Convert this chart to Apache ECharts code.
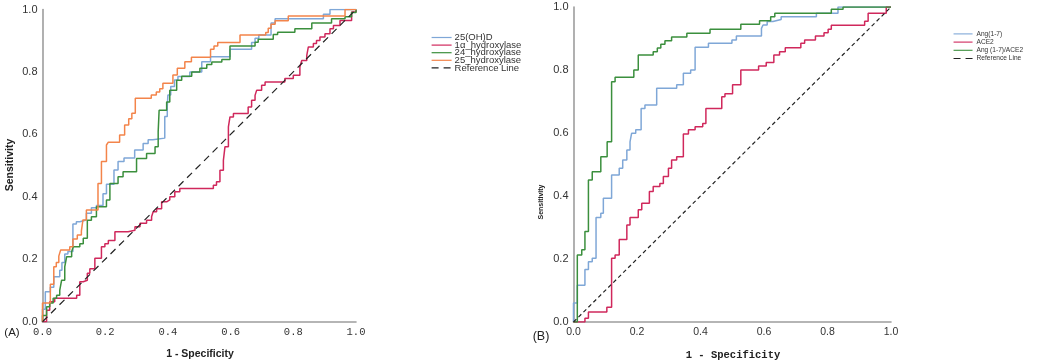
<!DOCTYPE html>
<html>
<head>
<meta charset="utf-8">
<style>
  html, body { margin: 0; padding: 0; background: #fff; }
  #roc { width: 1049px; height: 363px; }
</style>
<script src="https://cdn.jsdelivr.net/npm/echarts@6/dist/echarts.min.js"></script>
</head>
<body>
<div id="roc"></div>
<script>
// 刻度
var ticks = [0, 0.2, 0.4, 0.6, 0.8, 1.0];

// 图例名称
var namesA = ['25(OH)D', '1α_hydroxylase', '24_hydroxylase', '25_hydroxylase', 'Reference Line'];
var namesB = ['Ang(1-7)', 'ACE2', 'Ang (1-7)/ACE2', 'Reference Line'];

// (A) ROC 折线点 [1-特异度, 灵敏度]
var ohdA = [[0,0],[0,0.04],[0.009,0.096],[0.025,0.11],[0.036,0.144],[0.055,0.165],[0.062,0.19],[0.071,0.217],[0.081,0.225],[0.097,0.313],[0.108,0.32],[0.119,0.326],[0.14,0.347],[0.156,0.365],[0.172,0.372],[0.193,0.41],[0.204,0.44],[0.228,0.486],[0.241,0.513],[0.26,0.524],[0.294,0.55],[0.321,0.571],[0.337,0.583],[0.352,0.588],[0.39,0.657],[0.398,0.69],[0.4,0.726],[0.409,0.753],[0.421,0.774],[0.432,0.785],[0.47,0.8],[0.508,0.833],[0.536,0.849],[0.598,0.873],[0.667,0.894],[0.678,0.908],[0.69,0.918],[0.729,0.957],[0.742,0.97],[0.896,0.985],[0.917,1],[1,1]];
var alphaA = [[0,0],[0.013,0.037],[0.023,0.064],[0.039,0.075],[0.109,0.085],[0.119,0.128],[0.13,0.133],[0.143,0.155],[0.151,0.17],[0.167,0.203],[0.188,0.24],[0.199,0.25],[0.21,0.26],[0.231,0.288],[0.273,0.293],[0.295,0.304],[0.311,0.315],[0.332,0.325],[0.348,0.336],[0.353,0.352],[0.364,0.362],[0.38,0.384],[0.396,0.39],[0.406,0.4],[0.422,0.416],[0.438,0.427],[0.545,0.437],[0.555,0.448],[0.566,0.485],[0.577,0.517],[0.582,0.56],[0.593,0.624],[0.598,0.656],[0.609,0.667],[0.656,0.688],[0.667,0.709],[0.678,0.725],[0.683,0.741],[0.699,0.757],[0.71,0.768],[0.773,0.779],[0.8,0.789],[0.821,0.816],[0.827,0.837],[0.843,0.853],[0.848,0.88],[0.864,0.891],[0.874,0.901],[0.885,0.912],[0.901,0.922],[0.917,0.938],[0.928,0.949],[0.949,0.965],[0.986,0.992],[1,1]];
var h24A = [[0,0],[0,0.02],[0.013,0.048],[0.023,0.06],[0.034,0.075],[0.045,0.085],[0.055,0.1],[0.061,0.133],[0.071,0.176],[0.077,0.208],[0.093,0.224],[0.098,0.24],[0.119,0.25],[0.13,0.267],[0.143,0.325],[0.156,0.336],[0.172,0.368],[0.204,0.39],[0.215,0.443],[0.241,0.464],[0.257,0.48],[0.3,0.523],[0.332,0.539],[0.359,0.56],[0.369,0.608],[0.372,0.677],[0.396,0.704],[0.406,0.741],[0.428,0.773],[0.444,0.786],[0.476,0.8],[0.502,0.812],[0.524,0.824],[0.54,0.832],[0.572,0.84],[0.598,0.883],[0.678,0.895],[0.688,0.905],[0.736,0.92],[0.75,0.927],[0.805,0.938],[0.859,0.957],[0.922,0.97],[0.965,0.977],[0.986,0.99],[1,1]];
var h25A = [[0,0],[0,0.06],[0.025,0.12],[0.036,0.176],[0.044,0.19],[0.052,0.21],[0.058,0.23],[0.087,0.24],[0.097,0.265],[0.111,0.278],[0.124,0.29],[0.129,0.326],[0.14,0.358],[0.177,0.443],[0.188,0.513],[0.204,0.566],[0.21,0.575],[0.246,0.598],[0.262,0.63],[0.275,0.65],[0.285,0.668],[0.296,0.716],[0.347,0.726],[0.363,0.736],[0.374,0.746],[0.384,0.764],[0.416,0.79],[0.43,0.812],[0.454,0.833],[0.475,0.847],[0.536,0.873],[0.547,0.883],[0.559,0.894],[0.63,0.918],[0.712,0.926],[0.72,0.94],[0.729,0.953],[0.742,0.964],[0.784,0.979],[0.965,1],[1,1]];

// (B)
var angB = [[0,0],[0,0.06],[0.012,0.117],[0.036,0.167],[0.047,0.191],[0.059,0.202],[0.071,0.332],[0.086,0.345],[0.094,0.393],[0.12,0.467],[0.144,0.488],[0.155,0.514],[0.168,0.546],[0.178,0.572],[0.183,0.599],[0.196,0.61],[0.213,0.678],[0.225,0.689],[0.262,0.742],[0.325,0.753],[0.346,0.79],[0.369,0.8],[0.383,0.872],[0.425,0.885],[0.499,0.895],[0.513,0.908],[0.592,0.932],[0.597,0.943],[0.61,0.954],[0.628,0.96],[0.654,0.969],[0.765,0.98],[0.833,1],[1,1]];
var ace2B = [[0,0],[0.036,0.012],[0.047,0.032],[0.105,0.047],[0.12,0.202],[0.131,0.213],[0.144,0.262],[0.168,0.308],[0.178,0.332],[0.204,0.356],[0.215,0.377],[0.239,0.414],[0.251,0.43],[0.272,0.44],[0.283,0.462],[0.299,0.488],[0.309,0.514],[0.325,0.525],[0.346,0.597],[0.362,0.61],[0.383,0.62],[0.407,0.63],[0.417,0.678],[0.467,0.715],[0.477,0.725],[0.501,0.753],[0.527,0.8],[0.583,0.813],[0.607,0.824],[0.631,0.848],[0.649,0.858],[0.667,0.871],[0.716,0.885],[0.728,0.895],[0.762,0.908],[0.789,0.918],[0.802,0.929],[0.812,0.942],[0.917,0.955],[0.928,0.98],[0.985,1],[1,1]];
var ratioB = [[0,0],[0.012,0.213],[0.026,0.229],[0.036,0.287],[0.047,0.451],[0.059,0.477],[0.086,0.525],[0.106,0.572],[0.12,0.763],[0.131,0.777],[0.19,0.8],[0.204,0.848],[0.251,0.858],[0.264,0.87],[0.275,0.882],[0.288,0.893],[0.309,0.905],[0.357,0.917],[0.43,0.929],[0.527,0.945],[0.586,0.956],[0.621,0.969],[0.634,0.98],[0.812,0.993],[0.849,1],[1,1]];

// 参考线
var diagonal = [[0,0],[1,1]];

var blue = '#7fa7d7', red = '#d0285c', green = '#3b8f3d', orange = '#f3844a';

function stepLine(name, data, color, idx) {
  return {
    name: name, type: 'line', step: 'end', data: data,
    xAxisIndex: idx, yAxisIndex: idx,
    symbol: 'none', silent: true,
    lineStyle: { color: color, width: 1.5 },
    itemStyle: { color: color }
  };
}
function refLine(name, dash, idx) {
  return {
    name: name, type: 'line', data: diagonal,
    xAxisIndex: idx, yAxisIndex: idx,
    symbol: 'none', silent: true,
    lineStyle: { color: '#222', width: 1.2, type: dash },
    itemStyle: { color: '#222' }
  };
}

function valueAxis(idx, labelFont, labelSize) {
  return {
    type: 'value', gridIndex: idx,
    min: ticks[0], max: ticks[ticks.length - 1], interval: ticks[1] - ticks[0],
    axisLine: { show: true, lineStyle: { color: '#9d9d9d', width: 1.6 } },
    axisTick: { show: false },
    splitLine: { show: false },
    axisLabel: {
      margin: 5, color: '#333', fontFamily: labelFont, fontSize: labelSize,
      formatter: function (v) { return v.toFixed(1); }
    }
  };
}

// 图例中不显示小圆点
var noSymbol = { color: 'rgba(0,0,0,0)', borderWidth: 0, opacity: 0 };

var chart = echarts.init(document.getElementById('roc'));
var option = {
  animation: false,
  grid: [
    { left: 42.5, top: 9.5, width: 313.5, height: 312.2 },
    { left: 573.5, top: 7, width: 317.5, height: 315 }
  ],
  xAxis: [
    valueAxis(0, 'Liberation Mono', 10.5),
    valueAxis(1, 'Liberation Sans', 10.5)
  ],
  yAxis: [
    valueAxis(0, 'Liberation Sans', 11),
    valueAxis(1, 'Liberation Sans', 11)
  ],
  legend: [{
    orient: 'vertical', left: 431, top: 32.5, padding: 0,
    itemWidth: 20, itemHeight: 7.6, itemGap: -2.4,
    itemStyle: noSymbol, lineStyle: { width: 1.2 },
    data: namesA,
    textStyle: { fontFamily: 'Liberation Sans', fontSize: 9.5, color: '#333', padding: [0, 0, 0, -2] }
  }, {
    orient: 'vertical', left: 953, top: 30.4, padding: 0,
    itemWidth: 19, itemHeight: 8.3, itemGap: 1.2,
    itemStyle: noSymbol, lineStyle: { width: 1.1 },
    data: namesB,
    textStyle: { fontFamily: 'Liberation Sans', fontSize: 6.6, color: '#333', padding: [0, 0, 0, -1] }
  }],
  graphic: [
    { type: 'text', x: 10, y: 165, rotation: Math.PI / 2,
      style: { text: 'Sensitivity', font: 'bold 10.5px Liberation Sans', fill: '#222', align: 'center', verticalAlign: 'middle' } },
    { type: 'text', x: 541, y: 202, rotation: Math.PI / 2,
      style: { text: 'Sensitivity', font: 'bold 7px Liberation Sans', fill: '#222', align: 'center', verticalAlign: 'middle' } },
    { type: 'text', x: 200, y: 354,
      style: { text: '1 - Specificity', font: 'bold 10.5px Liberation Sans', fill: '#222', align: 'center', verticalAlign: 'middle' } },
    { type: 'text', x: 733, y: 355,
      style: { text: '1 - Specificity', font: 'bold 10.5px Liberation Mono', fill: '#222', align: 'center', verticalAlign: 'middle' } },
    { type: 'text', x: 12, y: 333,
      style: { text: '(A)', font: '11.5px Liberation Sans', fill: '#222', align: 'center', verticalAlign: 'middle' } },
    { type: 'text', x: 541, y: 337,
      style: { text: '(B)', font: '12.5px Liberation Sans', fill: '#222', align: 'center', verticalAlign: 'middle' } }
  ],
  series: [
    stepLine(namesA[0], ohdA, blue, 0),
    stepLine(namesA[1], alphaA, red, 0),
    stepLine(namesA[2], h24A, green, 0),
    stepLine(namesA[3], h25A, orange, 0),
    refLine(namesA[4], [7, 5], 0),
    stepLine(namesB[0], angB, blue, 1),
    stepLine(namesB[1], ace2B, red, 1),
    stepLine(namesB[2], ratioB, green, 1),
    refLine(namesB[3], [4, 3], 1)
  ]
};
chart.setOption(option);
</script>
</body>
</html>
